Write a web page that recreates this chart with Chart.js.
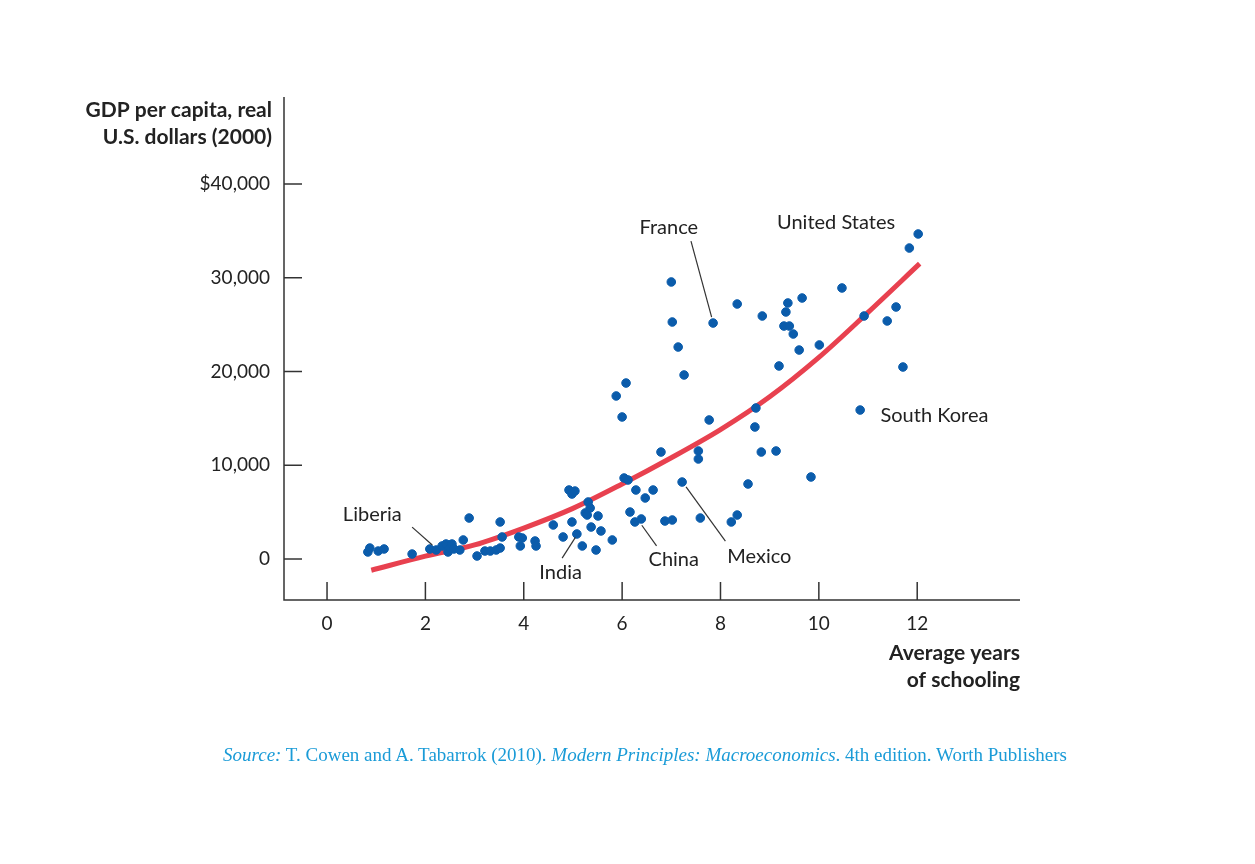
<!DOCTYPE html>
<html><head><meta charset="utf-8">
<script src="https://cdn.jsdelivr.net/npm/chart.js@4"></script>
<style>
body{margin:0;background:#fff;}
#wrap{position:relative;width:1255px;height:864px;}
#src{position:absolute;left:0;width:1290px;top:744px;text-align:center;font-family:"Liberation Serif","DejaVu Serif",serif;font-size:19px;color:#1a9bd7;}
</style></head><body>
<div id="wrap"><canvas id="c" width="1255" height="864"></canvas>
<div id="src"><i>Source:</i> T. Cowen and A. Tabarrok (2010). <i>Modern Principles: Macroeconomics</i>. 4th edition. Worth Publishers</div></div>
<script>
const schooling = [0.83,0.87,1.04,1.16,1.73,2.09,2.22,2.34,2.42,2.46,2.50,2.54,2.58,2.70,2.77,2.89,3.05,3.21,3.32,3.44,3.52,3.52,3.56,3.90,3.97,3.93,4.23,4.25,4.60,4.80,4.92,4.98,5.04,4.98,5.08,5.19,5.25,5.29,5.31,5.35,5.37,5.47,5.51,5.57,5.80,5.88,6.00,6.08,6.04,6.12,6.16,6.28,6.26,6.39,6.47,6.63,6.79,6.87,7.02,7.00,7.02,7.14,7.26,7.22,7.55,7.55,7.59,7.85,7.77,8.22,8.34,8.56,8.70,8.72,8.83,8.85,8.34,9.13,9.19,9.29,9.33,9.37,9.40,9.48,9.60,9.66,9.84,10.01,10.47,10.92,11.39,11.57,11.71,10.84,11.84,12.02];
const gdp = [750,1170,850,1070,530,1070,960,1390,1600,750,1170,1600,1070,960,2030,4370,320,850,850,960,1170,3950,2350,2350,2240,1390,1920,1390,3630,2350,7360,6930,7250,3950,2670,1390,4910,4690,6080,5440,3410,960,4590,2990,2030,17390,15150,18770,8640,8430,5010,7360,3950,4270,6510,7360,11410,4050,4160,29550,25280,22610,19630,8210,11520,10670,4370,25170,14830,3950,4690,8000,14080,16110,11410,25920,27200,11520,20590,24850,26350,27310,24850,24000,22290,27840,8750,22830,28910,25920,25390,26880,20480,15890,33170,34670];
const trendX = [0.9,2,3,4,5,6,7,8,9,10,11,12.05];
const trendY = [-1200,300,1500,3300,5400,8000,10800,13800,17300,21500,26300,31500];
const xTicks = [0,2,4,6,8,10,12];
const yTicks = [0,10000,20000,30000,40000];
const yTickLabels = ["0","10,000","20,000","30,000","$40,000"];
// label: text, text position (x,y data), leader from, leader to
const notes = [
 {t:"Liberia", x:0.92, y:4700, a:[1.73,3400], b:[2.14,1500]},
 {t:"France", x:6.95, y:35400, a:[7.4,33900], b:[7.82,25800]},
 {t:"United States", x:10.35, y:35900, a:null},
 {t:"South Korea", x:12.35, y:15300, a:null},
 {t:"India", x:4.75, y:-1400, a:[4.78,100], b:[5.05,2300]},
 {t:"China", x:7.05, y:-100, a:[6.7,1400], b:[6.4,3600]},
 {t:"Mexico", x:8.79, y:300, a:[8.1,1900], b:[7.3,7700]}
];
const F = '"Lato","Open Sans",sans-serif';
const deco = {id:'deco', afterDraw(ch){
 const c=ch.ctx, xs=ch.scales.x, ys=ch.scales.y, ca=ch.chartArea;
 c.save(); c.strokeStyle='#333'; c.lineWidth=1.5;
 c.beginPath(); c.moveTo(ca.left,ca.top); c.lineTo(ca.left,ca.bottom); c.lineTo(ca.right,ca.bottom); c.stroke();
 c.fillStyle='#222'; c.font='19px '+F; c.textBaseline='middle';
 yTicks.forEach((v,i)=>{const p=ys.getPixelForValue(v); c.beginPath(); c.moveTo(ca.left,p); c.lineTo(ca.left+18,p); c.stroke(); c.textAlign='right'; c.fillText(yTickLabels[i],ca.left-14,p);});
 xTicks.forEach(v=>{const p=xs.getPixelForValue(v); c.beginPath(); c.moveTo(p,ca.bottom); c.lineTo(p,ca.bottom-18); c.stroke(); c.textAlign='center'; c.fillText(String(v),p,ca.bottom+24);});
 c.font='bold 21px '+F; c.textAlign='right';
 c.fillText('GDP per capita, real',272,110); c.fillText('U.S. dollars (2000)',272,137);
 c.fillText('Average years',1020,653); c.fillText('of schooling',1020,680);
 c.font='20px '+F; c.lineWidth=1.2;
 notes.forEach(n=>{c.textAlign= n.t==='South Korea'?'center':'center'; c.fillText(n.t, xs.getPixelForValue(n.x), ys.getPixelForValue(n.y));
  if(n.a){c.beginPath(); c.moveTo(xs.getPixelForValue(n.a[0]),ys.getPixelForValue(n.a[1])); c.lineTo(xs.getPixelForValue(n.b[0]),ys.getPixelForValue(n.b[1])); c.stroke();}});
 c.restore();
}};
new Chart(document.getElementById('c'),{
 type:'scatter',
 data:{datasets:[
  {data:schooling.map((v,i)=>({x:v,y:gdp[i]})), backgroundColor:'#0b5cab', borderColor:'#0b5cab', pointRadius:4.3, order:1},
  {type:'line', data:trendX.map((v,i)=>({x:v,y:trendY[i]})), borderColor:'#e8414f', borderWidth:5, pointRadius:0, tension:0.4, cubicInterpolationMode:'monotone', order:2}
 ]},
 options:{responsive:false, animation:false, devicePixelRatio:1,
  layout:{padding:{left:284,right:235,top:97,bottom:264}},
  plugins:{legend:{display:false},tooltip:{enabled:false}},
  scales:{x:{type:'linear',min:-0.875,max:14.09,display:false},
          y:{min:-4373,max:49280,display:false}}},
 plugins:[deco]
});
</script></body></html>
